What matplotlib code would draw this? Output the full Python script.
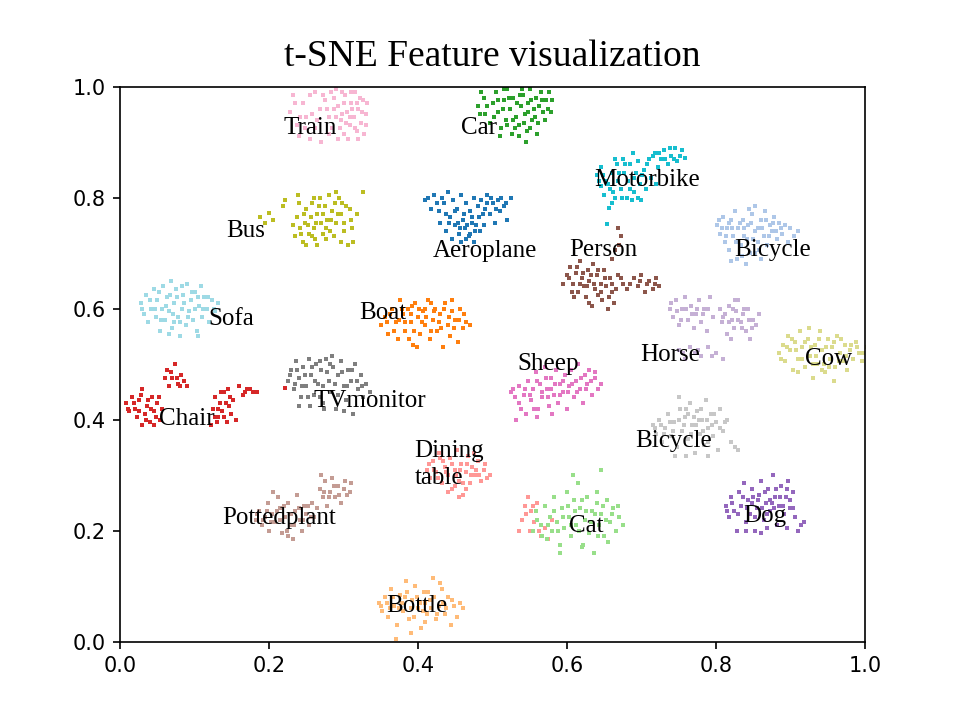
import matplotlib
matplotlib.use("Agg")
import matplotlib.pyplot as plt

# ---- cluster points ----
train_pts = [(0.232,0.985),(0.245,0.97),(0.228,0.955),(0.25,0.945),(0.238,0.93),(0.24,0.91),(0.255,0.905),(0.262,0.925),(0.268,0.96),(0.262,0.99),(0.275,0.975),(0.28,0.945),(0.285,0.925),(0.29,0.995),(0.292,0.965),(0.296,0.94),(0.3,0.915),(0.302,0.985),(0.305,0.955),(0.308,0.93),(0.31,0.97),(0.314,0.945),(0.316,0.99),(0.318,0.92),(0.32,0.96),(0.323,0.935),(0.326,0.975),(0.33,0.95),(0.287,0.98),(0.298,0.95),(0.312,0.96),(0.306,0.905),(0.27,0.9),(0.283,0.99),(0.322,0.98),(0.295,0.925),(0.278,0.96),(0.32,0.905),(0.33,0.93),(0.258,0.95),
             (0.235,0.97),(0.248,0.925),(0.265,0.94),(0.272,0.985),(0.29,0.945),(0.3,0.97),(0.31,0.99),(0.315,0.925),(0.325,0.955),(0.328,0.915),(0.303,0.935),(0.293,0.905),(0.28,0.915),(0.318,0.97),(0.332,0.97),(0.255,0.985),(0.242,0.945),(0.298,0.99),(0.309,0.945),(0.287,0.96)]
car_pts = [(0.48,0.965),(0.488,0.98),(0.49,0.95),(0.497,0.935),(0.5,0.97),(0.505,0.99),(0.508,0.955),(0.512,0.925),(0.515,0.975),(0.518,0.94),(0.52,0.995),(0.523,0.96),(0.526,0.915),(0.528,0.98),(0.531,0.945),(0.534,1.003),(0.536,0.93),(0.538,0.965),(0.541,0.985),(0.543,0.95),(0.546,0.92),(0.548,0.97),(0.551,0.995),(0.553,0.94),(0.556,0.96),(0.558,0.98),(0.561,0.935),(0.565,0.99),(0.568,0.955),(0.572,0.975),(0.576,0.99),(0.578,0.955),(0.545,0.9),(0.53,0.925),(0.51,0.91),(0.56,0.915),(0.485,0.99),(0.54,0.995),(0.52,0.93),(0.57,0.94),
           (0.483,0.95),(0.493,0.965),(0.502,0.945),(0.507,0.975),(0.514,0.96),(0.522,0.98),(0.527,0.94),(0.533,0.97),(0.537,0.985),(0.542,0.935),(0.547,0.955),(0.552,0.975),(0.557,0.945),(0.562,0.965),(0.566,0.975),(0.574,0.96),(0.58,0.975),(0.516,0.995),(0.55,0.925),(0.535,0.91)]
motorbike_pts = [(0.64,0.84),(0.645,0.82),(0.65,0.805),(0.652,0.83),(0.658,0.815),(0.66,0.845),(0.664,0.8),(0.667,0.86),(0.668,0.83),(0.672,0.815),(0.675,0.87),(0.676,0.845),(0.68,0.8),(0.682,0.83),(0.685,0.86),(0.688,0.88),(0.69,0.81),(0.693,0.845),(0.696,0.865),(0.698,0.825),(0.7,0.795),(0.703,0.85),(0.706,0.815),(0.71,0.87),(0.713,0.835),(0.718,0.88),(0.722,0.855),(0.726,0.87),(0.73,0.885),(0.735,0.86),(0.74,0.875),(0.745,0.89),(0.748,0.865),(0.752,0.875),(0.758,0.872),(0.656,0.782),(0.654,0.753),(0.72,0.825),(0.665,0.87),(0.645,0.855),
                 (0.643,0.83),(0.648,0.84),(0.655,0.825),(0.662,0.81),(0.67,0.845),(0.674,0.8),(0.678,0.86),(0.684,0.815),(0.69,0.835),(0.695,0.8),(0.701,0.84),(0.708,0.86),(0.715,0.875),(0.724,0.88),(0.732,0.87),(0.738,0.89),(0.744,0.87),(0.755,0.885),(0.66,0.79),(0.687,0.795)]
bus_pts = [(0.188,0.765),(0.195,0.755),(0.2,0.772),(0.205,0.76),(0.219,0.785),(0.221,0.795),(0.239,0.805),(0.232,0.75),(0.235,0.73),(0.238,0.765),(0.242,0.745),(0.245,0.72),(0.248,0.755),(0.25,0.78),(0.253,0.735),(0.256,0.765),(0.258,0.79),(0.26,0.745),(0.262,0.725),(0.265,0.77),(0.268,0.8),(0.27,0.755),(0.272,0.735),(0.275,0.785),(0.278,0.76),(0.28,0.805),(0.282,0.74),(0.285,0.775),(0.288,0.79),(0.29,0.755),(0.294,0.8),(0.296,0.77),(0.3,0.74),(0.303,0.785),(0.306,0.715),(0.31,0.76),(0.313,0.72),(0.326,0.81),(0.265,0.715),(0.25,0.715),(0.29,0.81),
           (0.24,0.79),(0.247,0.77),(0.252,0.75),(0.257,0.73),(0.263,0.755),(0.267,0.785),(0.273,0.77),(0.277,0.745),(0.283,0.76),(0.287,0.73),(0.292,0.77),(0.298,0.79),(0.301,0.755),(0.308,0.78),(0.312,0.745),(0.26,0.8),(0.243,0.735),(0.276,0.725),(0.297,0.72),(0.318,0.77)]
aeroplane_pts = [(0.41,0.795),(0.418,0.78),(0.422,0.805),(0.428,0.775),(0.43,0.755),(0.435,0.79),(0.438,0.74),(0.44,0.81),(0.443,0.765),(0.447,0.795),(0.45,0.75),(0.452,0.78),(0.455,0.735),(0.458,0.805),(0.46,0.76),(0.463,0.745),(0.465,0.79),(0.468,0.73),(0.47,0.775),(0.472,0.755),(0.475,0.8),(0.477,0.74),(0.48,0.785),(0.482,0.765),(0.485,0.795),(0.488,0.75),(0.49,0.78),(0.493,0.805),(0.496,0.77),(0.5,0.79),(0.503,0.755),(0.507,0.795),(0.51,0.775),(0.515,0.785),(0.52,0.76),(0.525,0.8),(0.458,0.72),(0.445,0.725),(0.475,0.72),(0.432,0.8),
                 (0.413,0.8),(0.425,0.79),(0.437,0.77),(0.442,0.755),(0.449,0.775),(0.454,0.755),(0.457,0.745),(0.462,0.77),(0.466,0.75),(0.47,0.735),(0.473,0.765),(0.478,0.75),(0.483,0.74),(0.487,0.77),(0.492,0.79),(0.498,0.8),(0.505,0.78),(0.512,0.8),(0.518,0.79),(0.464,0.725)]
person_pts = [(0.668,0.745),(0.672,0.73),(0.67,0.715),(0.665,0.705),(0.66,0.69),(0.6,0.66),(0.604,0.675),(0.608,0.645),(0.612,0.665),(0.615,0.63),(0.618,0.685),(0.62,0.655),(0.623,0.64),(0.626,0.62),(0.628,0.67),(0.63,0.65),(0.633,0.605),(0.635,0.68),(0.637,0.635),(0.64,0.66),(0.642,0.625),(0.645,0.645),(0.647,0.615),(0.65,0.67),(0.652,0.64),(0.655,0.6),(0.658,0.655),(0.66,0.63),(0.663,0.61),(0.668,0.66),(0.675,0.645),(0.68,0.635),(0.69,0.655),(0.695,0.64),(0.7,0.66),(0.705,0.63),(0.71,0.65),(0.715,0.635),(0.72,0.655),(0.724,0.64),(0.61,0.62),(0.595,0.645),
              (0.603,0.655),(0.607,0.63),(0.613,0.675),(0.617,0.645),(0.622,0.665),(0.627,0.64),(0.632,0.66),(0.636,0.645),(0.641,0.67),(0.646,0.63),(0.651,0.655),(0.656,0.62),(0.661,0.645),(0.666,0.635),(0.672,0.655),(0.685,0.645),(0.698,0.65),(0.708,0.645),(0.718,0.645),(0.63,0.61)]
bicycle1_pts = [(0.802,0.75),(0.806,0.735),(0.81,0.765),(0.812,0.72),(0.815,0.745),(0.818,0.705),(0.82,0.76),(0.823,0.73),(0.826,0.775),(0.828,0.69),(0.83,0.745),(0.833,0.715),(0.836,0.76),(0.838,0.73),(0.84,0.68),(0.843,0.75),(0.846,0.7),(0.848,0.77),(0.85,0.725),(0.853,0.785),(0.856,0.745),(0.858,0.705),(0.861,0.76),(0.864,0.73),(0.866,0.775),(0.869,0.715),(0.872,0.75),(0.875,0.74),(0.878,0.765),(0.882,0.725),(0.885,0.755),(0.889,0.735),(0.893,0.75),(0.897,0.72),(0.9,0.745),(0.905,0.73),(0.91,0.74),(0.835,0.695),(0.86,0.69),(0.82,0.685),
                (0.804,0.76),(0.808,0.745),(0.814,0.73),(0.817,0.755),(0.822,0.745),(0.827,0.72),(0.832,0.755),(0.837,0.745),(0.842,0.725),(0.847,0.755),(0.852,0.74),(0.857,0.72),(0.862,0.745),(0.867,0.76),(0.871,0.73),(0.876,0.755),(0.88,0.74),(0.887,0.745),(0.845,0.78),(0.853,0.7)]
sofa_pts = [(0.028,0.61),(0.032,0.59),(0.035,0.625),(0.038,0.575),(0.042,0.6),(0.045,0.635),(0.048,0.585),(0.05,0.615),(0.053,0.56),(0.056,0.6),(0.058,0.64),(0.06,0.58),(0.063,0.62),(0.066,0.595),(0.068,0.65),(0.07,0.565),(0.073,0.61),(0.075,0.635),(0.078,0.585),(0.08,0.55),(0.083,0.6),(0.085,0.625),(0.088,0.57),(0.09,0.645),(0.093,0.595),(0.095,0.615),(0.098,0.58),(0.1,0.63),(0.103,0.56),(0.106,0.605),(0.108,0.64),(0.11,0.585),(0.113,0.62),(0.116,0.6),(0.12,0.575),(0.124,0.615),(0.128,0.595),(0.132,0.61),(0.065,0.555),(0.105,0.55),
            (0.03,0.6),(0.04,0.615),(0.047,0.6),(0.052,0.63),(0.055,0.58),(0.062,0.605),(0.067,0.625),(0.071,0.59),(0.076,0.62),(0.081,0.575),(0.086,0.61),(0.091,0.585),(0.096,0.63),(0.101,0.6),(0.105,0.62),(0.111,0.6),(0.118,0.62),(0.126,0.6),(0.083,0.64),(0.073,0.575)]
boat_pts = [(0.35,0.57),(0.355,0.585),(0.36,0.555),(0.365,0.6),(0.37,0.575),(0.373,0.545),(0.376,0.615),(0.38,0.59),(0.383,0.56),(0.386,0.6),(0.39,0.575),(0.393,0.535),(0.396,0.61),(0.4,0.585),(0.403,0.555),(0.406,0.595),(0.41,0.57),(0.413,0.615),(0.416,0.545),(0.42,0.58),(0.423,0.6),(0.426,0.56),(0.43,0.59),(0.433,0.53),(0.436,0.61),(0.44,0.57),(0.443,0.55),(0.446,0.595),(0.45,0.58),(0.453,0.54),(0.457,0.6),(0.46,0.565),(0.465,0.575),(0.47,0.57),(0.398,0.53),(0.375,0.58),(0.41,0.6),(0.428,0.575),(0.388,0.545),(0.445,0.615),
            (0.358,0.575),(0.363,0.59),(0.368,0.56),(0.378,0.6),(0.382,0.575),(0.391,0.59),(0.395,0.56),(0.401,0.6),(0.405,0.575),(0.411,0.585),(0.418,0.56),(0.422,0.595),(0.431,0.565),(0.435,0.6),(0.441,0.585),(0.448,0.565),(0.455,0.58),(0.462,0.59),(0.418,0.61),(0.392,0.605)]
horse_pts = [(0.738,0.6),(0.742,0.585),(0.746,0.615),(0.75,0.57),(0.755,0.6),(0.758,0.62),(0.762,0.58),(0.766,0.605),(0.77,0.565),(0.773,0.59),(0.777,0.615),(0.78,0.575),(0.784,0.6),(0.788,0.56),(0.792,0.62),(0.796,0.585),(0.75,0.525),(0.758,0.51),(0.765,0.53),(0.772,0.52),(0.78,0.515),(0.79,0.53),(0.8,0.52),(0.81,0.51),(0.805,0.6),(0.808,0.575),(0.812,0.59),(0.815,0.555),(0.818,0.605),(0.821,0.58),(0.824,0.565),(0.827,0.595),(0.83,0.615),(0.833,0.575),(0.836,0.59),(0.84,0.56),(0.843,0.6),(0.846,0.545),(0.85,0.58),(0.854,0.57),(0.858,0.59),(0.82,0.545),
             (0.74,0.61),(0.748,0.595),(0.753,0.58),(0.76,0.6),(0.768,0.59),(0.775,0.6),(0.782,0.59),(0.79,0.6),(0.81,0.585),(0.817,0.575),(0.823,0.6),(0.829,0.58),(0.835,0.565),(0.838,0.6),(0.845,0.58),(0.848,0.565),(0.756,0.52),(0.776,0.525),(0.795,0.515),(0.825,0.615)]
cow_pts = [(0.885,0.52),(0.89,0.535),(0.893,0.505),(0.897,0.55),(0.9,0.525),(0.903,0.49),(0.906,0.54),(0.91,0.51),(0.913,0.56),(0.916,0.53),(0.92,0.495),(0.923,0.545),(0.926,0.515),(0.93,0.475),(0.933,0.535),(0.936,0.5),(0.94,0.56),(0.943,0.525),(0.946,0.485),(0.95,0.545),(0.953,0.51),(0.956,0.53),(0.96,0.495),(0.963,0.55),(0.966,0.52),(0.97,0.505),(0.973,0.535),(0.976,0.49),(0.98,0.525),(0.984,0.51),(0.988,0.54),(0.992,0.52),(0.996,0.505),(1.003,0.53),(0.958,0.47),(0.925,0.565),(0.945,0.5),(0.91,0.485),
           (0.888,0.51),(0.895,0.53),(0.902,0.545),(0.908,0.525),(0.915,0.51),(0.92,0.54),(0.928,0.53),(0.935,0.515),(0.938,0.545),(0.948,0.53),(0.952,0.495),(0.958,0.54),(0.965,0.505),(0.968,0.545),(0.975,0.515),(0.982,0.535),(0.99,0.53),(0.998,0.52),(0.93,0.5),(0.942,0.49)]
chair_pts = [(0.008,0.43),(0.012,0.415),(0.016,0.44),(0.02,0.42),(0.023,0.405),(0.026,0.435),(0.03,0.455),(0.033,0.41),(0.036,0.425),(0.04,0.395),(0.043,0.44),(0.046,0.415),(0.05,0.43),(0.053,0.4),(0.056,0.42),(0.03,0.39),(0.045,0.39),(0.06,0.475),(0.063,0.49),(0.066,0.46),(0.07,0.475),(0.074,0.5),(0.078,0.465),(0.082,0.48),(0.086,0.47),(0.09,0.46),(0.122,0.39),(0.125,0.42),(0.128,0.44),(0.131,0.405),(0.134,0.43),(0.137,0.415),(0.14,0.45),(0.143,0.395),(0.146,0.425),(0.149,0.41),(0.152,0.435),(0.135,0.45),(0.145,0.455),(0.16,0.46),(0.165,0.445),(0.17,0.455),(0.178,0.45),(0.184,0.45),(0.221,0.457),(0.155,0.4),
             (0.01,0.42),(0.018,0.43),(0.025,0.415),(0.028,0.445),(0.035,0.4),(0.038,0.435),(0.042,0.42),(0.048,0.405),(0.052,0.44),(0.068,0.485),(0.076,0.475),(0.08,0.46),(0.127,0.405),(0.132,0.42),(0.139,0.405),(0.142,0.43),(0.148,0.44),(0.168,0.45),(0.175,0.455),(0.13,0.395)]
tvmonitor_pts = [(0.226,0.47),(0.23,0.49),(0.233,0.455),(0.236,0.505),(0.24,0.475),(0.243,0.44),(0.246,0.495),(0.25,0.46),(0.253,0.51),(0.256,0.48),(0.26,0.445),(0.263,0.5),(0.266,0.465),(0.27,0.49),(0.273,0.43),(0.276,0.51),(0.28,0.47),(0.283,0.45),(0.286,0.495),(0.29,0.42),(0.293,0.48),(0.296,0.505),(0.3,0.46),(0.303,0.435),(0.306,0.49),(0.31,0.47),(0.313,0.41),(0.316,0.5),(0.32,0.455),(0.323,0.48),(0.326,0.44),(0.33,0.465),(0.335,0.45),(0.255,0.425),(0.285,0.515),(0.24,0.425),(0.3,0.415),(0.268,0.44),
                 (0.228,0.48),(0.235,0.465),(0.238,0.49),(0.244,0.46),(0.248,0.48),(0.252,0.44),(0.258,0.495),(0.262,0.47),(0.268,0.505),(0.272,0.46),(0.278,0.485),(0.282,0.5),(0.288,0.465),(0.292,0.445),(0.298,0.485),(0.305,0.46),(0.312,0.49),(0.318,0.47),(0.325,0.46),(0.274,0.42)]
sheep_pts = [(0.525,0.45),(0.53,0.44),(0.535,0.46),(0.538,0.42),(0.542,0.445),(0.545,0.41),(0.548,0.47),(0.552,0.435),(0.555,0.455),(0.558,0.485),(0.561,0.42),(0.564,0.465),(0.567,0.44),(0.57,0.495),(0.573,0.455),(0.576,0.425),(0.579,0.475),(0.582,0.445),(0.585,0.49),(0.588,0.43),(0.591,0.465),(0.594,0.45),(0.597,0.48),(0.6,0.42),(0.603,0.46),(0.606,0.49),(0.609,0.44),(0.612,0.47),(0.615,0.5),(0.618,0.455),(0.621,0.43),(0.624,0.48),(0.627,0.465),(0.63,0.49),(0.633,0.445),(0.637,0.475),(0.641,0.455),(0.645,0.465),(0.532,0.4),(0.56,0.405),(0.58,0.41),
             (0.528,0.455),(0.536,0.43),(0.543,0.455),(0.55,0.445),(0.556,0.42),(0.56,0.47),(0.566,0.45),(0.572,0.475),(0.578,0.455),(0.584,0.465),(0.59,0.445),(0.595,0.47),(0.601,0.45),(0.607,0.465),(0.613,0.45),(0.619,0.475),(0.625,0.455),(0.632,0.47),(0.638,0.485),(0.575,0.44)]
bicycle2_pts = [(0.715,0.39),(0.72,0.375),(0.724,0.4),(0.728,0.36),(0.732,0.385),(0.736,0.41),(0.74,0.37),(0.744,0.395),(0.748,0.35),(0.752,0.42),(0.755,0.38),(0.758,0.405),(0.762,0.365),(0.765,0.43),(0.768,0.39),(0.772,0.34),(0.775,0.415),(0.778,0.375),(0.781,0.4),(0.784,0.355),(0.787,0.435),(0.79,0.385),(0.793,0.41),(0.796,0.37),(0.8,0.395),(0.803,0.345),(0.806,0.42),(0.81,0.38),(0.815,0.4),(0.82,0.36),(0.825,0.35),(0.83,0.345),(0.76,0.335),(0.745,0.335),(0.79,0.335),(0.75,0.44),(0.77,0.405),
                (0.718,0.385),(0.726,0.39),(0.73,0.375),(0.738,0.395),(0.742,0.38),(0.75,0.4),(0.757,0.39),(0.763,0.41),(0.767,0.375),(0.773,0.39),(0.777,0.4),(0.783,0.38),(0.788,0.4),(0.795,0.39),(0.798,0.41),(0.805,0.385),(0.812,0.395),(0.78,0.42),(0.76,0.42),(0.79,0.36)]
diningtable_pts = [(0.412,0.31),(0.416,0.295),(0.42,0.325),(0.424,0.305),(0.428,0.34),(0.432,0.285),(0.436,0.315),(0.44,0.3),(0.443,0.33),(0.446,0.275),(0.449,0.31),(0.452,0.345),(0.455,0.29),(0.458,0.32),(0.461,0.265),(0.464,0.305),(0.467,0.335),(0.47,0.285),(0.473,0.315),(0.476,0.3),(0.48,0.325),(0.484,0.29),(0.488,0.31),(0.493,0.295),(0.497,0.3),(0.44,0.27),(0.455,0.26),(0.465,0.275),(0.43,0.33),(0.475,0.34),
                   (0.415,0.32),(0.422,0.31),(0.427,0.295),(0.434,0.325),(0.438,0.305),(0.445,0.32),(0.451,0.3),(0.457,0.31),(0.46,0.285),(0.466,0.32),(0.471,0.3),(0.478,0.31),(0.482,0.3),(0.49,0.32),(0.45,0.28),
                   (0.536,0.2),(0.54,0.22),(0.543,0.245),(0.548,0.26),(0.552,0.235),(0.556,0.215),(0.56,0.25),(0.565,0.19),(0.57,0.205),(0.575,0.185),(0.58,0.22),(0.55,0.2),(0.545,0.23),(0.555,0.245),(0.562,0.2)]
cat_pts = [(0.555,0.2),(0.56,0.22),(0.565,0.21),(0.57,0.245),(0.573,0.185),(0.577,0.225),(0.58,0.2),(0.583,0.26),(0.586,0.215),(0.59,0.175),(0.593,0.24),(0.596,0.205),(0.6,0.27),(0.603,0.225),(0.606,0.19),(0.609,0.255),(0.612,0.21),(0.615,0.285),(0.618,0.24),(0.621,0.175),(0.624,0.22),(0.627,0.26),(0.63,0.195),(0.633,0.235),(0.636,0.16),(0.64,0.25),(0.643,0.21),(0.646,0.23),(0.65,0.19),(0.654,0.255),(0.658,0.215),(0.662,0.24),(0.666,0.2),(0.67,0.225),(0.675,0.21),(0.645,0.31),(0.608,0.3),(0.59,0.16),(0.62,0.17),(0.655,0.18),
           (0.558,0.235),(0.567,0.19),(0.575,0.21),(0.582,0.235),(0.588,0.2),(0.595,0.225),(0.602,0.245),(0.605,0.21),(0.611,0.235),(0.616,0.2),(0.62,0.255),(0.626,0.235),(0.632,0.215),(0.638,0.23),(0.642,0.19),(0.648,0.245),(0.652,0.22),(0.66,0.23),(0.668,0.245),(0.64,0.27)]
pottedplant_pts = [(0.182,0.22),(0.186,0.235),(0.19,0.21),(0.195,0.225),(0.198,0.25),(0.2,0.2),(0.204,0.23),(0.208,0.215),(0.212,0.26),(0.215,0.24),(0.218,0.195),(0.222,0.225),(0.225,0.25),(0.228,0.21),(0.232,0.185),(0.235,0.235),(0.238,0.265),(0.241,0.22),(0.244,0.2),(0.247,0.245),(0.25,0.23),(0.254,0.21),(0.258,0.25),(0.26,0.225),(0.268,0.275),(0.272,0.26),(0.275,0.29),(0.278,0.245),(0.282,0.27),(0.285,0.295),(0.289,0.26),(0.292,0.28),(0.296,0.25),(0.3,0.275),(0.305,0.265),(0.31,0.285),(0.27,0.3),(0.226,0.19),(0.205,0.27),(0.265,0.24),
                   (0.184,0.23),(0.192,0.22),(0.197,0.235),(0.202,0.215),(0.21,0.235),(0.214,0.22),(0.22,0.245),(0.224,0.2),(0.23,0.23),(0.234,0.21),(0.24,0.24),(0.246,0.22),(0.252,0.245),(0.256,0.225),(0.274,0.27),(0.28,0.26),(0.287,0.28),(0.294,0.265),(0.302,0.29),(0.308,0.27)]
dog_pts = [(0.813,0.245),(0.817,0.225),(0.82,0.26),(0.824,0.235),(0.828,0.2),(0.831,0.27),(0.834,0.245),(0.837,0.285),(0.84,0.215),(0.843,0.255),(0.846,0.23),(0.849,0.275),(0.852,0.2),(0.855,0.24),(0.858,0.265),(0.861,0.29),(0.864,0.22),(0.867,0.25),(0.87,0.275),(0.873,0.235),(0.876,0.3),(0.879,0.26),(0.882,0.21),(0.885,0.245),(0.888,0.28),(0.891,0.23),(0.894,0.26),(0.897,0.29),(0.9,0.24),(0.903,0.27),(0.906,0.225),(0.91,0.2),(0.914,0.21),(0.918,0.215),(0.86,0.195),(0.84,0.2),(0.895,0.205),(0.875,0.25),(0.85,0.26),
           (0.815,0.235),(0.822,0.25),(0.83,0.23),(0.836,0.26),(0.842,0.24),(0.848,0.25),(0.853,0.225),(0.857,0.255),(0.862,0.24),(0.866,0.27),(0.869,0.23),(0.872,0.255),(0.878,0.24),(0.881,0.275),(0.886,0.26),(0.89,0.245),(0.895,0.275),(0.899,0.255),(0.904,0.24),(0.868,0.205)]
bottle_pts = [(0.347,0.07),(0.352,0.055),(0.356,0.08),(0.36,0.045),(0.364,0.095),(0.368,0.065),(0.372,0.03),(0.376,0.085),(0.38,0.055),(0.384,0.11),(0.388,0.04),(0.392,0.075),(0.396,0.1),(0.4,0.06),(0.404,0.025),(0.408,0.09),(0.412,0.05),(0.416,0.075),(0.42,0.115),(0.424,0.04),(0.428,0.065),(0.432,0.095),(0.436,0.05),(0.44,0.08),(0.444,0.03),(0.448,0.065),(0.452,0.045),(0.457,0.07),(0.46,0.06),(0.37,0.005),(0.39,0.015),(0.41,0.035),(0.43,0.105),(0.385,0.09),
              (0.35,0.065),(0.358,0.07),(0.362,0.06),(0.366,0.08),(0.374,0.06),(0.378,0.07),(0.382,0.08),(0.39,0.06),(0.394,0.045),(0.398,0.08),(0.402,0.07),(0.406,0.055),(0.41,0.07),(0.414,0.09),(0.418,0.06),(0.422,0.08),(0.426,0.05),(0.434,0.07),(0.438,0.06),(0.446,0.075)]

clusters = [aeroplane_pts, bicycle1_pts, bus_pts, car_pts, cow_pts, chair_pts, diningtable_pts,
            cat_pts, dog_pts, horse_pts, person_pts, pottedplant_pts, sheep_pts, train_pts,
            tvmonitor_pts, bicycle2_pts, boat_pts, bottle_pts, motorbike_pts, sofa_pts]
colors = ['#1f77b4', '#aec7e8', '#bcbd22', '#2ca02c', '#dbdb8d', '#d62728', '#ff9896',
          '#98df8a', '#9467bd', '#c5b0d5', '#8c564b', '#c49c94', '#e377c2', '#f7b6d2',
          '#7f7f7f', '#c7c7c7', '#ff7f0e', '#ffbb78', '#17becf', '#9edae5']

label_texts = ['Train', 'Car', 'Motorbike', 'Bus', 'Aeroplane', 'Person', 'Bicycle', 'Sofa',
               'Boat', 'Horse', 'Cow', 'Sheep', 'TVmonitor', 'Chair', 'Bicycle', 'Dining\ntable',
               'Pottedplant', 'Cat', 'Dog', 'Bottle']
label_pos = [(0.220, 0.926), (0.458, 0.926), (0.637, 0.831), (0.142, 0.739), (0.420, 0.703),
             (0.603, 0.705), (0.824, 0.705), (0.119, 0.581), (0.321, 0.592), (0.698, 0.516),
             (0.919, 0.510), (0.533, 0.500), (0.259, 0.433), (0.052, 0.402), (0.691, 0.362),
             (0.395, 0.319), (0.137, 0.222), (0.603, 0.209), (0.836, 0.227), (0.357, 0.065)]

fig = plt.figure(figsize=(9.61 / 1.5, 7.21 / 1.5), dpi=150)
ax = fig.add_subplot(111)

for pts, c in zip(clusters, colors):
    xs = [p[0] for p in pts]
    ys = [p[1] for p in pts]
    ax.scatter(xs, ys, s=5, marker='s', color=c, linewidths=0)

for txt, (x, y) in zip(label_texts, label_pos):
    ax.text(x, y, txt, fontsize=12, family='Liberation Serif', ha='left', va='center',
            linespacing=1.25)

ax.set_xlim(0, 1)
ax.set_ylim(0, 1)
ax.set_title('t-SNE Feature visualization', fontsize=18, family='Liberation Serif', pad=10)

fig.savefig('out.png', dpi=150)
